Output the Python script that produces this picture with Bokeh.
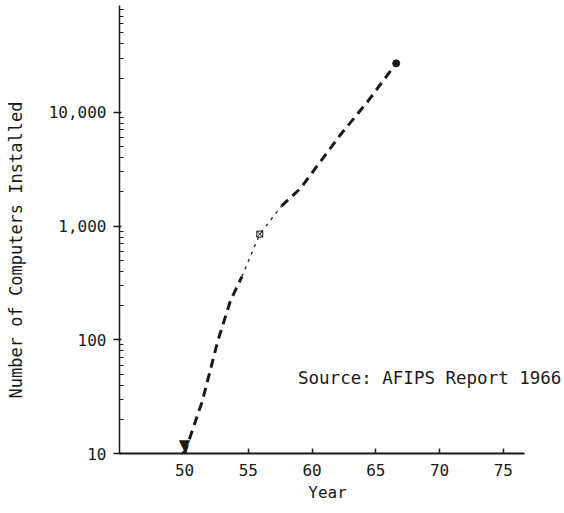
from bokeh.plotting import figure
from bokeh.models import Range1d, FixedTicker, Label
from bokeh.core.properties import value
from bokeh.embed import file_html
from bokeh.resources import INLINE

# ---- data ----
years = [50.0, 51.4, 52.6, 53.6, 54.5, 55.9, 57.6, 59.1, 62.2, 64.4, 66.6]
computers = [10, 29, 97, 220, 360, 850, 1500, 2150, 6300, 12600, 27000]
x_ticks = [50, 55, 60, 65, 70, 75]
x_tick_labels = ["50", "55", "60", "65", "70", "75"]
y_ticks = [10, 100, 1000, 10000]
y_tick_labels = ["10", "100", "1,000", "10,000"]
y_minor = [m * 10 ** e for e in range(1, 5) for m in range(2, 10)]
x_title = "Year"
y_title = "Number of Computers Installed"
source_text = "Source: AFIPS Report 1966"

FONT = "DejaVu Sans Mono"
INK = "#1a1a1a"
NBSP = "\u00a0"

p = figure(width=564, height=513,
           x_range=Range1d(44.9, 79.8), y_range=Range1d(10, 87100),
           y_axis_type="log", output_backend="svg", toolbar_location=None,
           min_border_left=119, min_border_right=0,
           min_border_top=5, min_border_bottom=60)
p.outline_line_color = None
p.xgrid.visible = False
p.ygrid.visible = False
p.background_fill_color = "white"

# dashed curve: thick, thin dotted middle (as printed), thick
p.line(years[0:5], computers[0:5], line_color=INK, line_width=3, line_dash="9 6")
p.line(years[4:7], computers[4:7], line_color=INK, line_width=1.3, line_dash="3 5")
p.line(years[6:], computers[6:], line_color=INK, line_width=3, line_dash="9 6")

# markers
p.text(x=years[:1], y=computers[:1], text=["▼"], text_align="center",
       text_baseline="bottom", text_font_size="15px", text_color=INK,
       text_font=value("DejaVu Sans"))
p.scatter(years[:1], computers[:1], marker="circle", size=5, color=INK)
p.scatter(years[5:6], computers[5:6], marker="square_x", size=6,
          fill_color=None, line_color=INK, line_width=1)
p.scatter(years[-1:], computers[-1:], marker="circle", size=7, color=INK)

# x axis (line stops short of the right edge, as in the original)
xa = p.xaxis[0]
xa.bounds = (44.9, 76.7)
xa.ticker = FixedTicker(ticks=x_ticks)
xa.major_label_overrides = {t: l for t, l in zip(x_ticks, x_tick_labels)}
xa.axis_label = x_title + NBSP * 3
xa.major_tick_in = 5
xa.major_tick_out = 0
xa.minor_tick_line_color = None
xa.major_label_standoff = 10
xa.axis_label_standoff = 4
xa.axis_line_width = 2
xa.axis_line_color = INK
xa.major_tick_line_color = INK
xa.major_tick_line_width = 1.5

# y axis
ya = p.yaxis[0]
ya.ticker = FixedTicker(ticks=y_ticks, minor_ticks=y_minor)
ya.major_label_overrides = {t: l for t, l in zip(y_ticks, y_tick_labels)}
ya.axis_label = y_title + NBSP * 4
ya.major_tick_out = 6
ya.major_tick_in = 2
ya.minor_tick_in = 4
ya.minor_tick_out = 0
ya.major_label_standoff = 7
ya.axis_label_standoff = 20
ya.axis_line_width = 1.5
ya.axis_line_color = INK
ya.major_tick_line_color = INK
ya.minor_tick_line_color = INK
ya.major_tick_line_width = 1.5

for ax in (xa, ya):
    ax.major_label_text_font = FONT
    ax.major_label_text_font_size = "16px"
    ax.major_label_text_color = INK
    ax.axis_label_text_font = FONT
    ax.axis_label_text_font_style = "normal"
    ax.axis_label_text_color = INK
xa.axis_label_text_font_size = "16px"
ya.axis_label_text_font_size = "17px"

p.add_layout(Label(x=58.9, y=46, text=source_text, text_font=FONT,
                   text_font_size="17.5px", text_color=INK,
                   text_baseline="middle", text_align="left"))

open("out.html", "w").write(file_html(p, INLINE))
